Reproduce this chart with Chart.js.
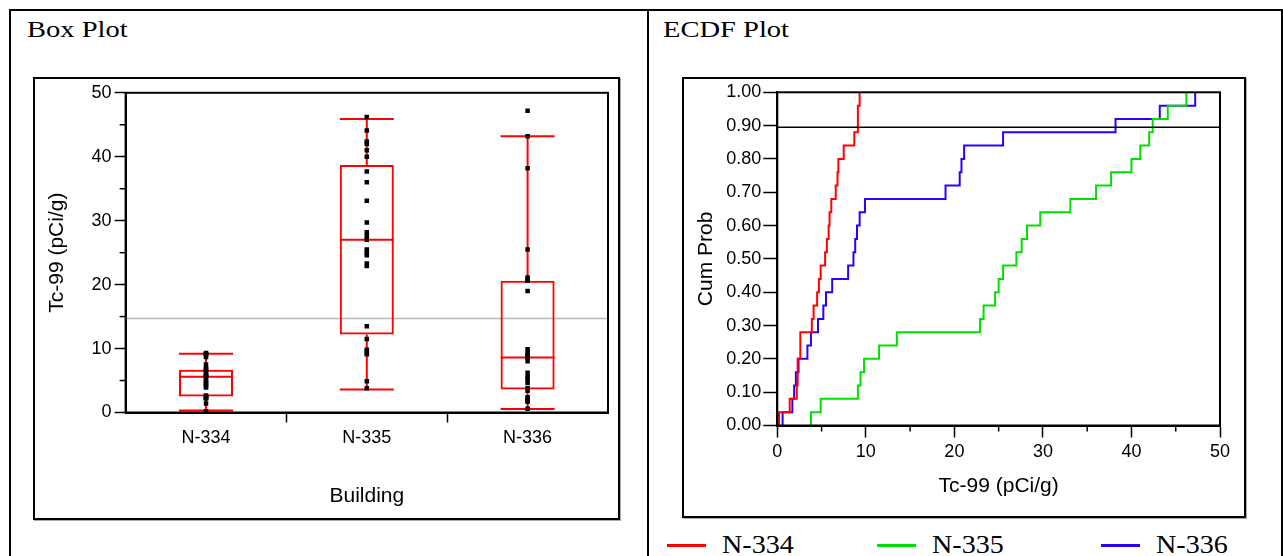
<!DOCTYPE html>
<html>
<head>
<meta charset="utf-8">
<script src="https://cdn.jsdelivr.net/npm/chart.js@4.4.1/dist/chart.umd.min.js"></script>
<style>
  body { margin: 0; background: #fff; width: 1283px; height: 556px; overflow: hidden; position: relative; }
  .cell { position: absolute; border: 2px solid #000; box-sizing: border-box; }
  .frame { position: absolute; border: 2px solid #000; box-sizing: border-box; box-shadow: 1px 1px 0 #aaa; }
  .title { position: absolute; font-family: "Liberation Serif", serif; font-size: 23px; line-height: 23px;
           transform: scaleX(1.24); transform-origin: left top; white-space: nowrap; }
  canvas { position: absolute; }
  #legend { position: absolute; left: 667px; top: 528px; width: 600px; height: 34px; }
  .item { position: absolute; top: 0; height: 34px; }
  .item span.line { position: absolute; left: 0; top: 16px; width: 39px; height: 3px; }
  .item span.txt { position: absolute; left: 55px; top: 4px; font-family: "Liberation Serif", serif;
                   font-size: 26px; line-height: 26px; white-space: nowrap; transform: scaleX(1.08); transform-origin: left top; }
</style>
</head>
<body>
<div class="cell" style="left:9px; top:9px; width:640px; height:560px"></div>
<div class="cell" style="left:647px; top:9px; width:636px; height:560px"></div>
<div class="title" style="left:27px; top:18px">Box Plot</div>
<div class="title" style="left:663px; top:18px">ECDF Plot</div>

<div class="frame" style="left:33px; top:77px; width:587px; height:443px"></div>
<canvas id="boxChart" width="583" height="439" style="left:35px; top:79px"></canvas>

<div class="frame" style="left:682px; top:77px; width:564px; height:441px"></div>
<canvas id="ecdfChart" width="560" height="437" style="left:684px; top:79px"></canvas>

<div id="legend"></div>

<script>
// buildings and colours
var buildings = ['N-334', 'N-335', 'N-336']
var colors = ['#ff0000', '#00e000', '#2a00ff']

// Tc-99 results (pCi/g), sorted
var n334 = [0.2, 1.4, 2.2, 2.3, 2.3, 2.6, 2.6, 3.9, 4.1, 4.5, 4.7, 4.9, 5.4, 5.6, 5.8, 5.9, 6.1, 6.6, 6.8, 6.9, 7.5, 8.7, 9.1, 9.1, 9.3]
var n335 = [3.8, 4.9, 9.1, 9.4, 9.8, 11.5, 13.5, 22.9, 23.3, 24.6, 25.0, 25.5, 27.0, 27.6, 28.2, 29.7, 33.1, 36.0, 37.7, 40.0, 41.0, 42.0, 42.4, 44.1, 46.2]
var n336 = [0.6, 1.7, 1.9, 2.1, 2.4, 3.4, 3.8, 4.6, 5.2, 5.5, 6.2, 8.0, 8.6, 8.8, 9.0, 9.3, 9.9, 19.0, 20.6, 20.8, 21.1, 25.5, 38.2, 43.2, 47.2]
var results = [n334, n335, n336]

// box plot summary values
var whiskerLow = [0.3, 3.6, 0.55]
var q1 = [2.5, 12.2, 3.6]
var median = [5.6, 27.0, 8.6]
var q3 = [6.7, 38.7, 20.6]
var whiskerHigh = [9.2, 45.9, 43.2]

// reference lines
var boxRefLine = 14.7
var ecdfRefLine = 0.895

// minor tick positions
var minorValueTicks = [5, 15, 25, 35, 45]

var sans = 'Liberation Sans, Arial, sans-serif'

// legend
var legendLeft = [0, 210, 434]
var legendDiv = document.getElementById('legend')
for (var i = 0; i < buildings.length; i++) {
    var item = document.createElement('div')
    item.className = 'item'
    item.style.left = legendLeft[i] + 'px'
    var line = document.createElement('span')
    line.className = 'line'
    line.style.background = colors[i]
    var txt = document.createElement('span')
    txt.className = 'txt'
    txt.textContent = buildings[i]
    item.appendChild(line)
    item.appendChild(txt)
    legendDiv.appendChild(item)
}

function hLine(ctx, x1, x2, y) {
    ctx.beginPath()
    ctx.moveTo(x1, y)
    ctx.lineTo(x2, y)
    ctx.stroke()
}

function vLine(ctx, x, y1, y2) {
    ctx.beginPath()
    ctx.moveTo(x, y1)
    ctx.lineTo(x, y2)
    ctx.stroke()
}

var boxPlugin = {
    id: 'boxPlugin',
    beforeDatasetsDraw: function (chart) {
        var ctx = chart.ctx
        var area = chart.chartArea
        var y = chart.scales.y
        ctx.save()
        ctx.strokeStyle = '#b8b8b8'
        ctx.lineWidth = 1.5
        hLine(ctx, area.left, area.right, y.getPixelForValue(boxRefLine))

        var bars = chart.getDatasetMeta(0).data
        ctx.strokeStyle = '#ff0000'
        ctx.lineWidth = 2
        for (var i = 0; i < bars.length; i++) {
            var bar = bars[i]
            var half = bar.width / 2
            vLine(ctx, bar.x, y.getPixelForValue(q3[i]), y.getPixelForValue(whiskerHigh[i]))
            vLine(ctx, bar.x, y.getPixelForValue(q1[i]), y.getPixelForValue(whiskerLow[i]))
            hLine(ctx, bar.x - half, bar.x + half, y.getPixelForValue(whiskerHigh[i]))
            hLine(ctx, bar.x - half, bar.x + half, y.getPixelForValue(whiskerLow[i]))
            hLine(ctx, bar.x - half, bar.x + half, y.getPixelForValue(median[i]))
        }
        ctx.restore()
    },
    afterDraw: function (chart) {
        var ctx = chart.ctx
        var area = chart.chartArea
        var y = chart.scales.y
        ctx.save()
        ctx.strokeStyle = '#000'
        ctx.lineWidth = 2
        ctx.strokeRect(area.left, area.top, area.right - area.left, area.bottom - area.top)
        ctx.lineWidth = 1.5
        minorValueTicks.forEach(function (v) {
            hLine(ctx, area.left - 6, area.left, y.getPixelForValue(v))
        })
        ctx.restore()
    }
}

var ecdfPlugin = {
    id: 'ecdfPlugin',
    afterDraw: function (chart) {
        var ctx = chart.ctx
        var area = chart.chartArea
        var x = chart.scales.x
        ctx.save()
        ctx.strokeStyle = '#000'
        ctx.lineWidth = 1.5
        hLine(ctx, area.left, area.right, chart.scales.y.getPixelForValue(ecdfRefLine))
        minorValueTicks.forEach(function (v) {
            vLine(ctx, x.getPixelForValue(v), area.bottom, area.bottom + 6)
        })
        ctx.lineWidth = 2
        ctx.strokeRect(area.left, area.top, area.right - area.left, area.bottom - area.top)
        ctx.restore()
    }
}

function createBoxChart() {
    var points = []
    for (var i = 0; i < buildings.length; i++) {
        for (var k = 0; k < results[i].length; k++) {
            points.push({ x: buildings[i], y: results[i][k] })
        }
    }
    var boxes = buildings.map(function (b, i) { return [q1[i], q3[i]] })

    new Chart(document.getElementById('boxChart'), {
        type: 'bar',
        data: {
            labels: buildings,
            datasets: [{
                type: 'bar',
                data: boxes,
                backgroundColor: 'rgba(0,0,0,0)',
                borderColor: '#ff0000',
                borderWidth: 2,
                borderSkipped: false,
                barPercentage: 0.336,
                categoryPercentage: 1,
                order: 2
            }, {
                type: 'scatter',
                data: points,
                backgroundColor: '#000',
                borderWidth: 0,
                pointStyle: 'rect',
                pointRadius: 3.2,
                order: 1
            }]
        },
        options: {
            responsive: false,
            animation: false,
            devicePixelRatio: 1,
            layout: { padding: { left: 0, top: 13, right: 10, bottom: 0 } },
            plugins: { legend: { display: false }, tooltip: { enabled: false } },
            scales: {
                x: {
                    type: 'category',
                    offset: true,
                    grid: {
                        offset: true,
                        drawOnChartArea: false,
                        tickLength: 10,
                        tickWidth: 1.5,
                        tickColor: function (c) { return (c.type !== 'tick' || c.index === 0) ? 'rgba(0,0,0,0)' : '#000' }
                    },
                    border: { color: '#000', width: 2 },
                    ticks: { color: '#000', padding: 5, font: { family: sans, size: 18 } },
                    title: { display: true, text: 'Building', color: '#000', font: { family: sans, size: 21 }, padding: { top: 0, bottom: 9 } },
                    afterFit: function (s) { s.height = 105.5 }
                },
                y: {
                    min: 0,
                    max: 50,
                    grid: { drawOnChartArea: false, tickLength: 11, tickWidth: 1.5, tickColor: '#000' },
                    border: { color: '#000', width: 2 },
                    ticks: { stepSize: 10, color: '#000', padding: 3, font: { family: sans, size: 18 } },
                    title: { display: true, text: 'Tc-99 (pCi/g)', color: '#000', font: { family: sans, size: 21 }, padding: { top: 10, bottom: 0 } },
                    afterFit: function (s) { s.width = 90.6 }
                }
            }
        },
        plugins: [boxPlugin]
    })
}

// empirical CDF: start at (x1, 0), then one step of 1/n per value
function ecdfPoints(values) {
    var n = values.length
    var pts = [{ x: values[0], y: 0 }]
    for (var k = 0; k < n; k++) {
        pts.push({ x: values[k], y: (k + 1) / n })
    }
    return pts
}

function createEcdfChart() {
    var datasets = buildings.map(function (b, i) {
        return {
            label: b,
            data: ecdfPoints(results[i]),
            borderColor: colors[i],
            borderWidth: 2,
            pointRadius: 0,
            stepped: 'before',
            fill: false
        }
    })

    new Chart(document.getElementById('ecdfChart'), {
        type: 'line',
        data: { datasets: datasets },
        options: {
            responsive: false,
            animation: false,
            devicePixelRatio: 1,
            layout: { padding: { left: 0, top: 13.3, right: 24, bottom: 0 } },
            plugins: { legend: { display: false }, tooltip: { enabled: false } },
            scales: {
                x: {
                    type: 'linear',
                    min: 0,
                    max: 50,
                    grid: { drawOnChartArea: false, tickLength: 12, tickWidth: 1.5, tickColor: '#000' },
                    border: { color: '#000', width: 2 },
                    ticks: { stepSize: 10, color: '#000', padding: 4, font: { family: sans, size: 18 } },
                    title: { display: true, text: 'Tc-99 (pCi/g)', color: '#000', font: { family: sans, size: 21 }, padding: { top: 0, bottom: 17 } },
                    afterFit: function (s) { s.height = 90.5 }
                },
                y: {
                    min: 0,
                    max: 1,
                    grid: { drawOnChartArea: false, tickLength: 14, tickWidth: 1.5, tickColor: '#000' },
                    border: { color: '#000', width: 2 },
                    ticks: {
                        stepSize: 0.1,
                        color: '#000',
                        padding: 2,
                        font: { family: sans, size: 18 },
                        callback: function (v) { return v.toFixed(2) }
                    },
                    title: { display: true, text: 'Cum Prob', color: '#000', font: { family: sans, size: 21 }, padding: { top: 10, bottom: 0 } },
                    afterFit: function (s) { s.width = 93.3 }
                }
            }
        },
        plugins: [ecdfPlugin]
    })
}

createBoxChart()
createEcdfChart()
</script>
</body>
</html>
